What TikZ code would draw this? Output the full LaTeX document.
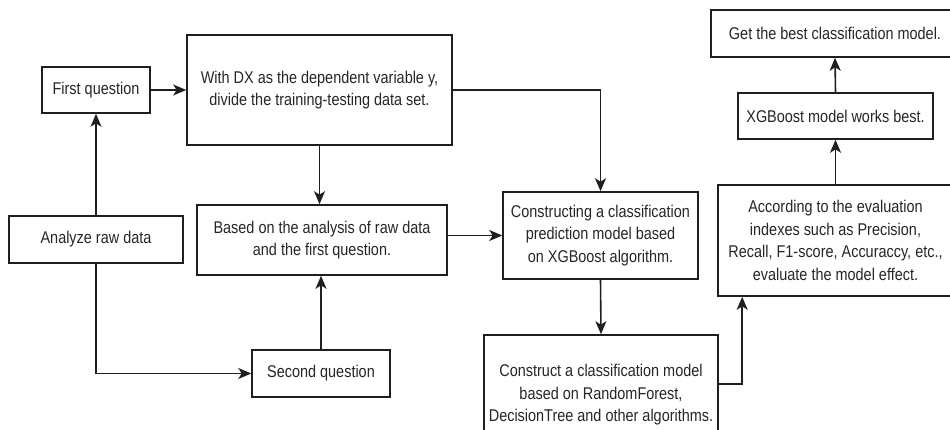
\documentclass[tikz,border=0pt]{standalone}
\usepackage{fontspec}
\setmainfont[FakeStretch=0.85]{Liberation Sans}
\usetikzlibrary{arrows.meta}
\begin{document}
\begin{tikzpicture}[x=1pt,y=1pt,
  box/.style={draw=black!88,line width=1.6pt,rectangle,inner sep=0pt,align=center,
    font=\fontsize{17}{22.5}\selectfont,text=black!85},
  conn/.style={draw=black!88,line width=1.6pt,-{Stealth[length=13pt,width=11pt,inset=3.5pt]}}]
\useasboundingbox (0,0) rectangle (950,-430);
\clip (0,0) rectangle (950,-430);
\fill[white] (0,0) rectangle (950,-430);
\node[box,minimum width=108,minimum height=46] (fq) at (96,-90) {First question};
\node[box,minimum width=265,minimum height=110] (dx) at (319.5,-90) {With DX as the dependent variable y,\\divide the training-testing data set.};
\node[box,minimum width=174,minimum height=47] (ana) at (96,-239.5) {Analyze raw data};
\node[box,minimum width=250,minimum height=70] (based) at (322,-240) {Based on the analysis of raw data\\and the first question.};
\node[box,minimum width=138,minimum height=47] (sq) at (321,-373.5) {Second question};
\node[box,minimum width=195,minimum height=87] (cons) at (600.5,-235.5) {Constructing a classification\\prediction model based\\on XGBoost algorithm.};
\node[box,minimum width=234,minimum height=120] (rf) at (601,-395) {Construct a classification model\\based on RandomForest,\\DecisionTree and other algorithms.};
\node[box,minimum width=235,minimum height=111] (eval) at (835.5,-240.5) {According to the evaluation\\indexes such as Precision,\\Recall, F1-score, Accuraccy, etc.,\\evaluate the model effect.};
\node[box,minimum width=195,minimum height=46] (xg) at (835.5,-116) {XGBoost model works best.};
\node[box,minimum width=248,minimum height=47] (best) at (835,-33.5) {Get the best classification model.};
\coordinate (rfout) at ([yshift=11pt]rf.east);
\coordinate (evin) at ([xshift=25pt]eval.south west);
\draw[conn] (fq.east) -- (dx.west);
\draw[conn] (ana.north) -- (fq.south);
\draw[conn] (dx.south) -- (dx.south |- based.north);
\draw[conn] (ana.south) |- (sq.west);
\draw[conn] (sq.north) -- (sq.north |- based.south);
\draw[conn] (cons.west -| based.east) -- (cons.west);
\draw[conn] (dx.east) -| (cons.north);
\draw[conn] (cons.south) -- (rf.north);
\draw[conn] (rfout) -| (evin);
\draw[conn] (eval.north) -- (xg.south);
\draw[conn] (xg.north) -- (best.south);
\end{tikzpicture}
\end{document}
